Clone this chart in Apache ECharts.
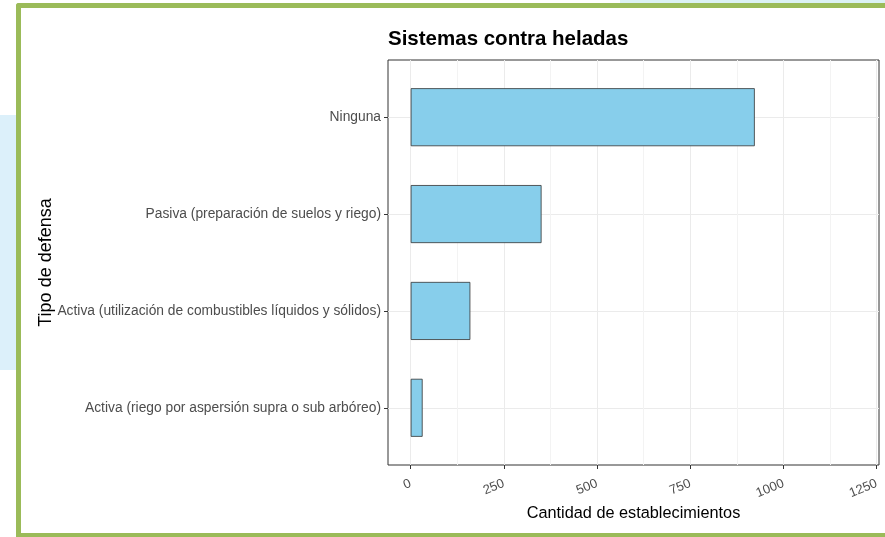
<!DOCTYPE html>
<html>
<head>
<meta charset="utf-8">
<script src="https://cdn.jsdelivr.net/npm/echarts@6/dist/echarts.min.js"></script>
<style>
  html, body { margin: 0; padding: 0; background: #fff; }
  #chart { width: 885px; height: 537px; }
</style>
</head>
<body>
<div id="chart"></div>
<script>
  // datos
  var categorias = [
    'Ninguna',
    'Pasiva (preparación de suelos y riego)',
    'Activa (utilización de combustibles líquidos y sólidos)',
    'Activa (riego por aspersión supra o sub arbóreo)'
  ];
  var establecimientos = [923, 351, 160, 32];
  var xTicks = [0, 250, 500, 750, 1000, 1250];

  var font = "'Liberation Sans', Arial, sans-serif";
  var verde = '#9bbb59';

  // escala del panel (el panel se extiende un poco a cada lado de 0..1250)
  var panelMin = -60.9, panelMax = 1256.2;

  var myChart = echarts.init(document.getElementById('chart'));

  myChart.setOption({
    animation: false,
    textStyle: { fontFamily: font },
    title: {
      text: 'Sistemas contra heladas',
      left: 383,
      top: 24,
      textStyle: { fontSize: 20.5, fontWeight: 'bold', color: '#000', fontFamily: font }
    },
    graphic: [
      // fondo celeste a la izquierda del marco
      { type: 'rect', shape: { x: 0, y: 115, width: 16, height: 255 }, style: { fill: '#dcf0fa' }, z: -10 },
      { type: 'rect', shape: { x: 620, y: 0, width: 265, height: 3 }, style: { fill: '#dcf2f4' }, z: -10 },
      // marco verde
      { type: 'rect', shape: { x: 16, y: 3, width: 5, height: 534, r: [3, 0, 0, 0] }, style: { fill: verde }, z: -5 },
      { type: 'rect', shape: { x: 16, y: 3, width: 869, height: 5, r: [3, 0, 0, 0] }, style: { fill: verde }, z: -5 },
      { type: 'rect', shape: { x: 16, y: 533, width: 869, height: 4 }, style: { fill: verde }, z: -5 }
    ],
    grid: [
      // panel con borde
      { left: 388, width: 491, top: 60, height: 405, show: true, borderColor: '#333', borderWidth: 1, backgroundColor: 'transparent' },
      // rejilla vertical y eje x
      { left: 410.7, width: 466, top: 60, height: 405 },
      // barras
      { left: 388, width: 491, top: 117.2, height: 290.6 }
    ],
    xAxis: [
      {
        gridIndex: 0, type: 'value', min: panelMin, max: panelMax,
        name: 'Cantidad de establecimientos', nameLocation: 'middle', nameGap: 41,
        nameTextStyle: { fontSize: 16.3, color: '#000', fontFamily: font },
        axisLine: { show: false }, axisTick: { show: false }, axisLabel: { show: false },
        splitLine: { show: false }
      },
      {
        gridIndex: 1, type: 'value',
        min: xTicks[0], max: xTicks[xTicks.length - 1], interval: xTicks[1] - xTicks[0],
        axisLine: { show: false },
        axisTick: { show: true, length: 4, lineStyle: { color: '#333' } },
        axisLabel: {
          rotate: 22, margin: 18, fontSize: 13, color: '#4d4d4d', fontFamily: font,
          formatter: function (v) { return String(v); }
        },
        splitLine: { show: true, lineStyle: { color: '#ebebeb', width: 1 } },
        minorTick: { show: false, splitNumber: 2 },
        minorSplitLine: { show: true, lineStyle: { color: '#f3f3f3', width: 1 } }
      },
      {
        gridIndex: 2, type: 'value', min: panelMin, max: panelMax, show: false
      }
    ],
    yAxis: [
      { gridIndex: 0, type: 'value', show: false },
      { gridIndex: 1, type: 'value', show: false },
      {
        gridIndex: 2, type: 'category', data: categorias, inverse: true, boundaryGap: false,
        name: 'Tipo de defensa', nameLocation: 'middle', nameGap: 333, nameMoveOverlap: false,
        nameTextStyle: { fontSize: 18, color: '#000', fontFamily: font },
        axisLine: { show: false, onZero: false },
        axisTick: { show: true, length: 4, lineStyle: { color: '#333' } },
        axisLabel: { interval: 0, margin: 7, fontSize: 13.8, color: '#4d4d4d', fontFamily: font },
        splitLine: { show: true, lineStyle: { color: '#ebebeb', width: 1 } }
      }
    ],
    series: [{
      type: 'bar',
      xAxisIndex: 2,
      yAxisIndex: 2,
      data: establecimientos,
      barWidth: 58,
      clip: false,
      itemStyle: { color: '#87ceeb', borderColor: '#333', borderWidth: 0.8 }
    }]
  });
</script>
</body>
</html>
